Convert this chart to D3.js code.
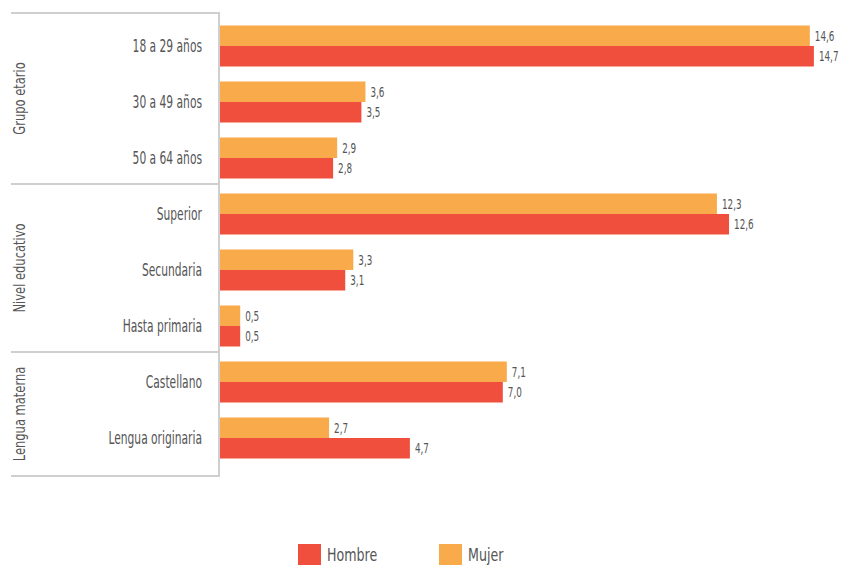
<!DOCTYPE html>
<html>
<head>
<meta charset="utf-8">
<script src="https://cdn.jsdelivr.net/npm/d3@7"></script>
<style>
  html, body { margin: 0; padding: 0; background: #fff; }
  svg { display: block; }
  text { font-family: "DejaVu Sans Condensed", "DejaVu Sans", sans-serif; font-stretch: condensed; fill: #555; }
</style>
</head>
<body>
<svg id="chart" width="841" height="565"></svg>
<script>
const categories = ["18 a 29 años", "30 a 49 años", "50 a 64 años", "Superior", "Secundaria", "Hasta primaria", "Castellano", "Lengua originaria"];
const groups = ["Grupo etario", "Grupo etario", "Grupo etario", "Nivel educativo", "Nivel educativo", "Nivel educativo", "Lengua materna", "Lengua materna"];
const mujer = [14.6, 3.6, 2.9, 12.3, 3.3, 0.5, 7.1, 2.7];
const hombre = [14.7, 3.5, 2.8, 12.6, 3.1, 0.5, 7.0, 4.7];
const seriesNames = ["Hombre", "Mujer"];
const colors = {Hombre: "#EF4F3C", Mujer: "#F9AA4B"};

const svg = d3.select("#chart");
const x = d3.scaleLinear().domain([0, 15]).range([220, 220 + 40.4 * 15]);
const y = d3.scaleBand().domain(categories).range([18, 466]).paddingInner(0).paddingOuter(0);
const barH = 20.5;
const fmt = v => d3.format(".1f")(v).replace(".", ",");
const narrow = (tx, ty, sx, rot) => `translate(${tx},${ty})` + (rot ? ` rotate(${rot})` : "") + ` scale(${sx},1)`;

// group separators
const groupNames = Array.from(new Set(groups));
const groupBounds = groupNames.map(g => {
  const idx = groups.map((gg, i) => gg === g ? i : -1).filter(i => i >= 0);
  const first = idx[0], last = idx[idx.length - 1];
  const top = first === 0 ? y(categories[first]) - 5 : y(categories[first]) - 2;
  const bottom = last === categories.length - 1 ? y(categories[last]) + y.bandwidth() + 10 : y(categories[last]) + y.bandwidth() - 2;
  return {name: g, top, bottom};
});
const lineYs = Array.from(new Set(groupBounds.flatMap(d => [d.top, d.bottom])));
svg.selectAll("line.sep").data(lineYs).join("line")
  .attr("class", "sep")
  .attr("x1", 11).attr("x2", 219)
  .attr("y1", d => d).attr("y2", d => d)
  .attr("stroke", "#cfcfcf").attr("stroke-width", 2);
svg.append("line")
  .attr("x1", 219).attr("x2", 219)
  .attr("y1", d3.min(lineYs) - 1).attr("y2", d3.max(lineYs) + 1)
  .attr("stroke", "#cfcfcf").attr("stroke-width", 2);

svg.selectAll("text.group").data(groupBounds).join("text")
  .attr("class", "group")
  .attr("transform", d => narrow(25, (d.top + d.bottom) / 2, 0.8, -90))
  .attr("text-anchor", "middle")
  .style("font-size", "16px")
  .text(d => d.name);

// category labels
svg.selectAll("text.cat").data(categories).join("text")
  .attr("class", "cat")
  .attr("transform", d => narrow(202, y(d) + y.bandwidth() / 2, 0.7))
  .attr("dy", "0.35em")
  .attr("text-anchor", "end")
  .style("font-size", "17px")
  .text(d => d);

// bars
const rows = categories.map((c, i) => ({c, mujer: mujer[i], hombre: hombre[i]}));
const mid = c => y(c) + y.bandwidth() / 2;
svg.selectAll("rect.mujer").data(rows).join("rect")
  .attr("x", x(0)).attr("y", d => mid(d.c) - barH)
  .attr("width", d => x(d.mujer) - x(0)).attr("height", barH)
  .attr("fill", colors.Mujer);
svg.selectAll("rect.hombre").data(rows).join("rect")
  .attr("x", x(0)).attr("y", d => mid(d.c))
  .attr("width", d => x(d.hombre) - x(0)).attr("height", barH)
  .attr("fill", colors.Hombre);

svg.selectAll("text.vm").data(rows).join("text")
  .attr("transform", d => narrow(x(d.mujer) + 5, mid(d.c) - barH / 2, 0.7))
  .attr("dy", "0.35em").style("font-size", "14px")
  .text(d => fmt(d.mujer));
svg.selectAll("text.vh").data(rows).join("text")
  .attr("transform", d => narrow(x(d.hombre) + 5, mid(d.c) + barH / 2, 0.7))
  .attr("dy", "0.35em").style("font-size", "14px")
  .text(d => fmt(d.hombre));

// legend
const legX = [298, 439];
const leg = svg.selectAll("g.leg").data(seriesNames).join("g")
  .attr("transform", (d, i) => `translate(${legX[i]},544)`);
leg.append("rect").attr("width", 23).attr("height", 21).attr("fill", d => colors[d]);
leg.append("text").attr("transform", narrow(29, 11, 0.78)).attr("dy", "0.35em")
  .style("font-size", "18px").text(d => d);
</script>
</body>
</html>
